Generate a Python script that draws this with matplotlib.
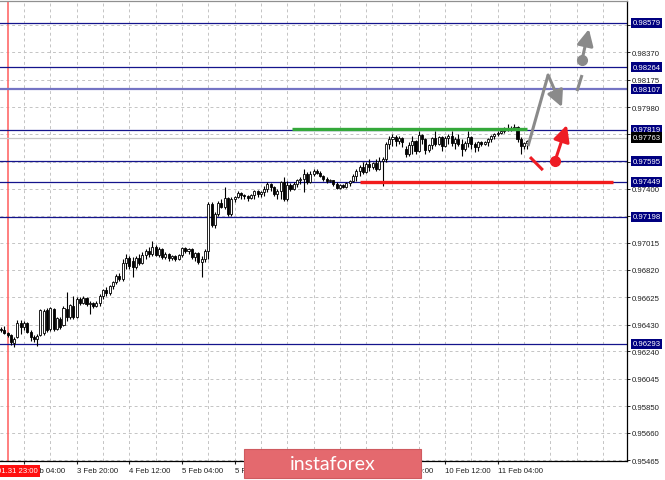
import numpy as np
import matplotlib
matplotlib.use('Agg')
import matplotlib.pyplot as plt
from matplotlib.patches import Rectangle
from matplotlib.transforms import blended_transform_factory

plt.rcParams['font.family'] = ['Liberation Sans', 'DejaVu Sans']

# H1 candles, 31 Jan 21:00 .. 11 Feb 13:00 (bar index = hour count on the chart)
opens = [0.96399, 0.96392, 0.96371, 0.96357, 0.96300, 0.96342, 0.96442, 0.96414, 0.96442, 0.96378,
         0.96342, 0.96328, 0.96357, 0.96371, 0.96535, 0.96399, 0.96542, 0.96399, 0.96471, 0.96428,
         0.96542, 0.96485, 0.96563, 0.96485, 0.96613, 0.96585, 0.96620, 0.96577, 0.96585, 0.96563,
         0.96585, 0.96634, 0.96677, 0.96656, 0.96706, 0.96734, 0.96777, 0.96755, 0.96869, 0.96905,
         0.96884, 0.96841, 0.96905, 0.96869, 0.96926, 0.96955, 0.96933, 0.96983, 0.96926, 0.96969,
         0.96912, 0.96933, 0.96905, 0.96919, 0.96898, 0.96926, 0.96976, 0.96955, 0.96969, 0.96912,
         0.96940, 0.96876, 0.96898, 0.96955, 0.97289, 0.97140, 0.97218, 0.97296, 0.97268, 0.97332,
         0.97218, 0.97325, 0.97339, 0.97368, 0.97353, 0.97346, 0.97332, 0.97353, 0.97382, 0.97361,
         0.97375, 0.97396, 0.97432, 0.97410, 0.97361, 0.97382, 0.97446, 0.97325, 0.97425, 0.97396,
         0.97432, 0.97460, 0.97467, 0.97503, 0.97446, 0.97503, 0.97524, 0.97510, 0.97489, 0.97467,
         0.97453, 0.97460, 0.97432, 0.97403, 0.97425, 0.97410, 0.97439, 0.97453, 0.97489, 0.97524,
         0.97553, 0.97517, 0.97574, 0.97553, 0.97581, 0.97539, 0.97595, 0.97610, 0.97717, 0.97752,
         0.97766, 0.97738, 0.97759, 0.97681, 0.97645, 0.97710, 0.97738, 0.97667, 0.97780, 0.97752,
         0.97674, 0.97710, 0.97759, 0.97717, 0.97766, 0.97702, 0.97759, 0.97773, 0.97724, 0.97752,
         0.97717, 0.97681, 0.97724, 0.97766, 0.97717, 0.97695, 0.97731, 0.97717, 0.97731, 0.97752,
         0.97773, 0.97788, 0.97795, 0.97809, 0.97816, 0.97830, 0.97823, 0.97838, 0.97752, 0.97702,
         0.97724]
closes = [0.96392, 0.96371, 0.96357, 0.96307, 0.96328, 0.96442, 0.96414, 0.96442, 0.96378, 0.96342,
          0.96328, 0.96350, 0.96535, 0.96528, 0.96392, 0.96549, 0.96399, 0.96478, 0.96414, 0.96549,
          0.96485, 0.96570, 0.96485, 0.96613, 0.96585, 0.96620, 0.96577, 0.96585, 0.96563, 0.96585,
          0.96634, 0.96677, 0.96656, 0.96706, 0.96734, 0.96777, 0.96755, 0.96869, 0.96905, 0.96848,
          0.96841, 0.96905, 0.96869, 0.96926, 0.96955, 0.96933, 0.96983, 0.96926, 0.96969, 0.96912,
          0.96933, 0.96905, 0.96919, 0.96898, 0.96926, 0.96976, 0.96955, 0.96969, 0.96912, 0.96940,
          0.96876, 0.96898, 0.96955, 0.97289, 0.97140, 0.97218, 0.97296, 0.97268, 0.97332, 0.97218,
          0.97325, 0.97339, 0.97368, 0.97353, 0.97346, 0.97332, 0.97353, 0.97382, 0.97361, 0.97375,
          0.97396, 0.97432, 0.97410, 0.97361, 0.97382, 0.97446, 0.97325, 0.97425, 0.97396, 0.97432,
          0.97460, 0.97467, 0.97503, 0.97446, 0.97503, 0.97524, 0.97510, 0.97489, 0.97467, 0.97453,
          0.97460, 0.97432, 0.97403, 0.97425, 0.97410, 0.97439, 0.97453, 0.97489, 0.97524, 0.97553,
          0.97517, 0.97574, 0.97553, 0.97581, 0.97539, 0.97595, 0.97610, 0.97717, 0.97752, 0.97766,
          0.97738, 0.97759, 0.97731, 0.97645, 0.97710, 0.97738, 0.97667, 0.97780, 0.97752, 0.97674,
          0.97710, 0.97759, 0.97717, 0.97766, 0.97702, 0.97759, 0.97773, 0.97724, 0.97752, 0.97717,
          0.97681, 0.97724, 0.97766, 0.97717, 0.97695, 0.97731, 0.97717, 0.97731, 0.97752, 0.97773,
          0.97788, 0.97795, 0.97809, 0.97816, 0.97830, 0.97823, 0.97838, 0.97752, 0.97702, 0.97724,
          0.97738]
highs = [0.96414, 0.96421, 0.96378, 0.96364, 0.96342, 0.96463, 0.96463, 0.96456, 0.96449, 0.96392,
         0.96357, 0.96364, 0.96542, 0.96542, 0.96549, 0.96556, 0.96549, 0.96485, 0.96485, 0.96563,
         0.96663, 0.96577, 0.96634, 0.96627, 0.96627, 0.96634, 0.96627, 0.96599, 0.96592, 0.96599,
         0.96649, 0.96684, 0.96698, 0.96713, 0.96741, 0.96791, 0.96798, 0.96898, 0.96933, 0.96919,
         0.96913, 0.96919, 0.96933, 0.96948, 0.96969, 0.96983, 0.97026, 0.96997, 0.96983, 0.96976,
         0.96948, 0.96940, 0.96926, 0.96926, 0.96933, 0.96983, 0.96983, 0.96976, 0.96976, 0.96948,
         0.96948, 0.96919, 0.96969, 0.97303, 0.97303, 0.97232, 0.97311, 0.97325, 0.97410, 0.97339,
         0.97339, 0.97346, 0.97382, 0.97375, 0.97361, 0.97353, 0.97361, 0.97389, 0.97389, 0.97382,
         0.97417, 0.97446, 0.97439, 0.97417, 0.97396, 0.97453, 0.97481, 0.97453, 0.97439, 0.97446,
         0.97467, 0.97481, 0.97539, 0.97517, 0.97524, 0.97539, 0.97539, 0.97524, 0.97496, 0.97481,
         0.97467, 0.97460, 0.97446, 0.97432, 0.97432, 0.97446, 0.97460, 0.97503, 0.97539, 0.97567,
         0.97588, 0.97588, 0.97610, 0.97588, 0.97610, 0.97624, 0.97624, 0.97731, 0.97773, 0.97788,
         0.97780, 0.97773, 0.97766, 0.97702, 0.97731, 0.97773, 0.97745, 0.97809, 0.97788, 0.97759,
         0.97717, 0.97766, 0.97809, 0.97773, 0.97773, 0.97773, 0.97788, 0.97809, 0.97766, 0.97788,
         0.97752, 0.97738, 0.97809, 0.97773, 0.97731, 0.97738, 0.97738, 0.97738, 0.97759, 0.97780,
         0.97795, 0.97809, 0.97823, 0.97838, 0.97859, 0.97845, 0.97859, 0.97845, 0.97766, 0.97731,
         0.97745]
lows = [0.96378, 0.96364, 0.96342, 0.96285, 0.96271, 0.96335, 0.96364, 0.96392, 0.96371, 0.96314,
        0.96307, 0.96278, 0.96350, 0.96357, 0.96378, 0.96385, 0.96385, 0.96392, 0.96399, 0.96421,
        0.96456, 0.96471, 0.96471, 0.96478, 0.96570, 0.96577, 0.96563, 0.96506, 0.96549, 0.96556,
        0.96563, 0.96613, 0.96634, 0.96641, 0.96684, 0.96720, 0.96741, 0.96741, 0.96827, 0.96827,
        0.96770, 0.96827, 0.96855, 0.96862, 0.96898, 0.96912, 0.96919, 0.96919, 0.96912, 0.96898,
        0.96898, 0.96884, 0.96891, 0.96884, 0.96891, 0.96912, 0.96940, 0.96933, 0.96898, 0.96884,
        0.96862, 0.96770, 0.96876, 0.96898, 0.97126, 0.97119, 0.97204, 0.97261, 0.97254, 0.97204,
        0.97204, 0.97303, 0.97332, 0.97325, 0.97325, 0.97311, 0.97325, 0.97325, 0.97339, 0.97339,
        0.97346, 0.97375, 0.97382, 0.97346, 0.97325, 0.97325, 0.97311, 0.97311, 0.97382, 0.97389,
        0.97410, 0.97432, 0.97375, 0.97432, 0.97439, 0.97489, 0.97503, 0.97481, 0.97453, 0.97439,
        0.97446, 0.97417, 0.97396, 0.97396, 0.97403, 0.97403, 0.97417, 0.97446, 0.97453, 0.97489,
        0.97503, 0.97510, 0.97524, 0.97539, 0.97524, 0.97531, 0.97417, 0.97588, 0.97681, 0.97702,
        0.97702, 0.97717, 0.97695, 0.97624, 0.97631, 0.97645, 0.97645, 0.97660, 0.97717, 0.97645,
        0.97660, 0.97681, 0.97702, 0.97710, 0.97667, 0.97695, 0.97717, 0.97702, 0.97681, 0.97702,
        0.97631, 0.97667, 0.97695, 0.97681, 0.97660, 0.97667, 0.97702, 0.97710, 0.97702, 0.97731,
        0.97752, 0.97773, 0.97788, 0.97795, 0.97809, 0.97809, 0.97816, 0.97731, 0.97645, 0.97681,
        0.97681]

x_tick_pos = [7, 23, 39, 55, 71, 87, 103, 119, 135, 151]
x_tick_labels = ['3 Feb 04:00', '3 Feb 20:00', '4 Feb 12:00', '5 Feb 04:00', '5 Feb 20:00',
                 '6 Feb 12:00', '7 Feb 04:00', '7 Feb 20:00', '10 Feb 12:00', '11 Feb 04:00']
y_ticks = [0.95465, 0.95660, 0.95850, 0.96045, 0.96240, 0.96430, 0.96625, 0.96820, 0.97015,
           0.97205, 0.97400, 0.97590, 0.97785, 0.97980, 0.98175, 0.98370, 0.98565]
levels = [0.98579, 0.98264, 0.98107, 0.97819, 0.97595, 0.97449, 0.97198, 0.96293]
bid = 0.97763
separator_bar = 2

green_level, green_span = 0.97825, (88.5, 159.9)
red_level, red_span = 0.97449, (109.1, 186.0)

# scenario sketches (bar index, price)
gray_path_x, gray_path_y = [160.2, 166.3], [0.97702, 0.98208]
gray_tip = (170.5, 0.97980)
gray_dash_x, gray_dash_y = [175.1, 176.6], [0.98094, 0.98208]
gray_dot = (176.6, 0.98315)
gray_dot_tip = (178.7, 0.98535)
red_dash_x, red_dash_y = [160.8, 164.7], [0.97624, 0.97531]
red_dot = (168.4, 0.97596)
red_dot_tip = (172.0, 0.97852)

o = np.array(opens)
c = np.array(closes)
h = np.array(highs)
l = np.array(lows)
idx = np.arange(len(o))
up = c >= o

fig = plt.figure(figsize=(6.65, 4.81), dpi=100)
ax = fig.add_axes([0, 19 / 481, 627 / 665, 479 / 481 - 19 / 481])
ax.set_xlim(-0.295, 190.28)
ax.set_ylim(0.95460, 0.98735)

navy = '#14148c'
grid_kw = dict(color='#c4c4c4', lw=0.7, ls=(0, (3, 3)), zorder=0)
for gx in range(7, 191, 8):
    ax.axvline(gx, **grid_kw)
for gy in y_ticks:
    ax.axhline(gy, **grid_kw)

ax.axvline(separator_bar, color='#ff6a6a', lw=1.2, zorder=1)

for lv in levels:
    if lv == 0.98107:
        ax.axhline(lv, color='#7474c4', lw=1.6, zorder=1)
    else:
        ax.axhline(lv, color=navy, lw=0.9, zorder=1)
ax.axhline(bid, color='#c8c8c8', lw=0.9, zorder=1)

# candles
ax.vlines(idx, l, h, color='black', lw=0.8, zorder=3)
ax.bar(idx[up], np.maximum((c - o)[up], 0.00003), bottom=o[up], width=0.62,
       color='white', edgecolor='black', lw=0.6, zorder=4)
ax.bar(idx[~up], (o - c)[~up], bottom=c[~up], width=0.62,
       color='black', edgecolor='black', lw=0.6, zorder=4)

ax.hlines(green_level, *green_span, color='#34a83a', lw=2.4, zorder=5)
ax.hlines(red_level, *red_span, color='#f21c1c', lw=2.4, zorder=5)

gray = '#8a8a8a'
red = '#ee1c24'
head = '-|>,head_length=0.7,head_width=0.35'
ax.plot(gray_path_x, gray_path_y, color=gray, lw=2.2, solid_capstyle='butt', zorder=6)
ax.annotate('', xy=gray_tip, xytext=(gray_path_x[-1], gray_path_y[-1]),
            arrowprops=dict(arrowstyle=head, color=gray, lw=2.2, mutation_scale=14,
                            shrinkA=0, shrinkB=0), zorder=6)
ax.plot(gray_dash_x, gray_dash_y, color=gray, lw=2.2, solid_capstyle='butt', zorder=6)
ax.plot(*gray_dot, 'o', color=gray, ms=7, zorder=7)
ax.annotate('', xy=gray_dot_tip, xytext=gray_dot,
            arrowprops=dict(arrowstyle=head, color=gray, lw=2.2, mutation_scale=14,
                            shrinkA=0, shrinkB=0), zorder=6)
ax.plot(red_dash_x, red_dash_y, color=red, lw=2.2, solid_capstyle='butt', zorder=6)
ax.plot(*red_dot, 'o', color=red, ms=7, zorder=7)
ax.annotate('', xy=red_dot_tip, xytext=red_dot,
            arrowprops=dict(arrowstyle=head, color=red, lw=2.2, mutation_scale=14,
                            shrinkA=0, shrinkB=0), zorder=6)

# axes look
ax.spines['left'].set_visible(False)
ax.spines['top'].set_color('#909090')
ax.spines['right'].set_color('black')
ax.spines['bottom'].set_color('black')
for s in ['top', 'right', 'bottom']:
    ax.spines[s].set_linewidth(0.9)

ax.yaxis.tick_right()
ax.set_yticks(y_ticks)
ax.set_yticklabels(['%.5f' % v for v in y_ticks])
ax.tick_params(axis='y', length=2.2, width=0.7, pad=1.4, labelsize=5.6, colors='#202020')
ax.set_xticks(x_tick_pos)
ax.set_xticklabels(x_tick_labels)
for lab in ax.get_xticklabels():
    lab.set_ha('left')
ax.tick_params(axis='x', length=2.4, width=0.8, pad=2.2, labelsize=5.6, colors='#202020')

tr = blended_transform_factory(ax.transAxes, ax.transData)
for lv in levels:
    ax.text(1.0085, lv, '%.5f' % lv, transform=tr, ha='left', va='center',
            fontsize=5.6, color='white', clip_on=False, zorder=10,
            bbox=dict(boxstyle='square,pad=0.2', fc='#000080', ec='none'))
ax.text(1.0085, bid, '%.5f' % bid, transform=tr, ha='left', va='center',
        fontsize=5.6, color='white', clip_on=False, zorder=10,
        bbox=dict(boxstyle='square,pad=0.2', fc='black', ec='none'))

fig.text(-3 / 665, (481 - 472) / 481, '01.31 23:00', ha='left', va='center',
         fontsize=5.6, color='white',
         bbox=dict(boxstyle='square,pad=0.35', fc='#ff1010', ec='none'))

fig.add_artist(Rectangle((244 / 665, 2 / 481), 177 / 665, 29 / 481, transform=fig.transFigure,
                         fc='#e4696e', ec='#cf5a5f', lw=0.8, zorder=20))
fig.text(333 / 665, 16 / 481, 'instaforex', ha='center', va='center', fontsize=14,
         color='white', family=['Lato', 'DejaVu Sans'], zorder=21)

fig.savefig('out.png', dpi=100)
